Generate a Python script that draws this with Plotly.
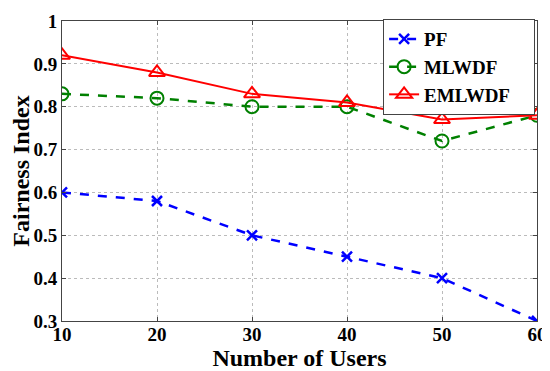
import plotly.graph_objects as go

users = [10, 20, 30, 40, 50, 60]
pf = [0.60, 0.58, 0.50, 0.45, 0.40, 0.30]
mlwdf = [0.83, 0.82, 0.80, 0.80, 0.72, 0.78]
emlwdf = [0.92, 0.88, 0.83, 0.81, 0.77, 0.78]
y_ticks = [0.3, 0.4, 0.5, 0.6, 0.7, 0.8, 0.9, 1.0]
y_ticklabels = ["0.3", "0.4", "0.5", "0.6", "0.7", "0.8", "0.9", "1"]

FF = "Liberation Serif"

fig = go.Figure()
fig.add_trace(go.Scatter(x=users, y=pf, name="PF", mode="lines+markers",
                         line=dict(color="#0000ff", width=2.5, dash="dash"),
                         marker=dict(symbol="x-thin", size=10, line=dict(color="#0000ff", width=2.5))))
fig.add_trace(go.Scatter(x=users, y=mlwdf, name="MLWDF", mode="lines+markers",
                         line=dict(color="#008000", width=2.5, dash="dash"),
                         marker=dict(symbol="circle-open", size=13, line=dict(color="#008000", width=2))))
fig.add_trace(go.Scatter(x=users, y=emlwdf, name="EMLWDF" + "&nbsp;" * 4, mode="lines+markers",
                         line=dict(color="#ff0000", width=2),
                         marker=dict(symbol="triangle-up-open", size=14, line=dict(color="#ff0000", width=2))))

axis_common = dict(
    ticks="inside", ticklen=4, tickcolor="#444",
    showline=True, linecolor="#444", linewidth=1, mirror="ticks",
    showgrid=True, gridcolor="#bbbbbb", griddash="dot", gridwidth=1,
    zeroline=False, automargin=False,
    tickfont=dict(family=FF, size=19, color="black", weight="bold"),
)

# page body has an 8px default margin; figure offset accordingly
fig.update_layout(
    width=542, height=363,
    margin=dict(l=54, r=13, t=12, b=50),
    paper_bgcolor="white", plot_bgcolor="white",
    font=dict(family=FF, color="black"),
    showlegend=True,
    legend=dict(x=0.676, y=1.003, xanchor="left", yanchor="top",
                bordercolor="#444", borderwidth=1, bgcolor="white",
                font=dict(family=FF, size=19, color="black", weight="bold"),
                tracegroupgap=0, itemwidth=30),
    xaxis=dict(range=[10, 60], tickvals=users, **axis_common, ticklabelstandoff=-4,
               title=dict(text="Number of Users", standoff=4,
                          font=dict(family=FF, size=24, color="black", weight="bold"))),
    yaxis=dict(range=[0.3, 1.0], tickvals=y_ticks, ticktext=y_ticklabels, **axis_common,
               title=dict(text="Fairness Index", standoff=2,
                          font=dict(family=FF, size=24, color="black", weight="bold"))),
)
fig.write_html("out.html")
